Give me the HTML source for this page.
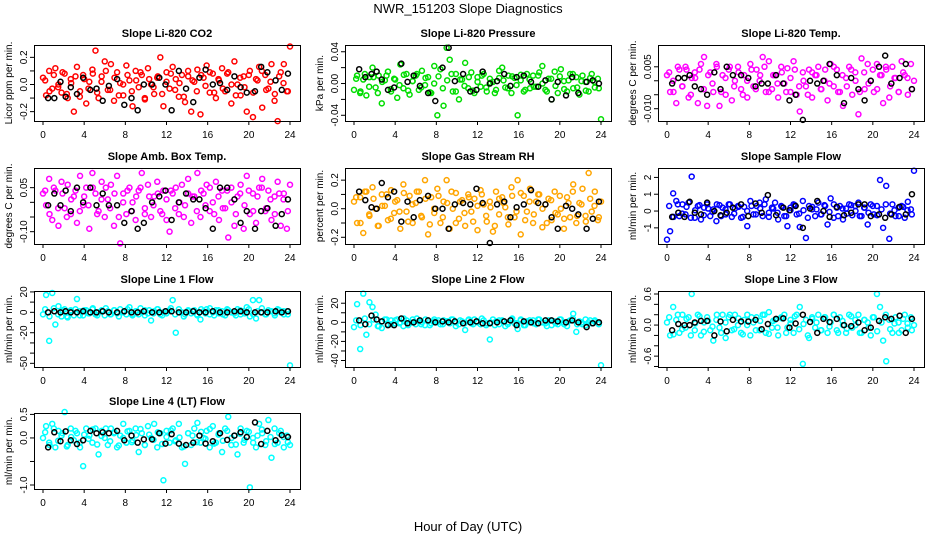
<!DOCTYPE html>
<html><head><meta charset="utf-8"><style>
html,body{margin:0;padding:0;background:#fff;}
svg{display:block;font-family:"Liberation Sans",sans-serif;}
</style></head><body>
<svg id="fig" width="936" height="540" viewBox="0 0 936 540">
<text x="468" y="13" text-anchor="middle" font-size="13">NWR_151203  Slope Diagnostics</text>
<text x="468" y="531" text-anchor="middle" font-size="13">Hour of Day (UTC)</text>
</svg>
<script>
const blackHours=[0.5,1.1,1.7,2.2,2.7,3.3,3.9,4.6,5.2,5.8,6.4,7.2,7.9,8.6,9.2,9.8,10.6,11.3,11.9,12.5,13.2,13.9,14.6,15.2,15.8,16.5,17.2,17.9,18.6,19.2,19.8,20.6,21.2,21.8,22.6,23.2,23.8];
const xTicks=[0,4,8,12,16,20,24];

const co2Vals=[0.05,-0.08,0.1,-0.03,0.12,0.0,-0.06,0.08,-0.1,0.04,-0.2,0.13,-0.05,0.07,-0.14,0.02,0.11,0.25,-0.1,0.06,0.17,-0.04,0.15,-0.12,0.09,0.01,-0.08,0.14,0.03,-0.16,0.1,-0.02,0.07,-0.11,0.12,0.0,-0.07,0.05,0.2,-0.16,0.09,-0.03,0.13,0.04,-0.09,0.07,-0.13,0.1,-0.2,0.02,0.11,-0.22,0.05,0.14,-0.06,0.08,-0.1,0.03,0.12,-0.05,0.09,-0.14,0.17,0.0,-0.08,0.06,-0.2,0.1,-0.24,0.04,0.13,-0.17,0.07,-0.03,0.15,-0.12,-0.27,0.09,0.15,-0.05,0.28];
const co2ValsB=[0.03,-0.05,0.07,-0.02,0.09,-0.07,0.01,0.06,-0.09,0.04,-0.03,0.08,-0.06,0.02,0.1,-0.04,0.05,-0.08,0.0,0.07,-0.05,0.03,0.09,-0.1,0.04,-0.02,0.06,-0.07,0.02,0.08,-0.04,0.01,-0.09,0.06,0.03,-0.05,0.07,-0.01,0.09,-0.06,0.04,-0.03,0.08,0.0,-0.08,0.05,-0.02,0.07,-0.06,0.03,0.1,-0.04,0.02,-0.07,0.06,0.01,-0.05];
const co2Black=[-0.1,-0.1,0.02,-0.09,-0.02,-0.07,0.05,-0.04,-0.03,-0.12,-0.01,0.04,-0.15,-0.1,-0.19,0.0,0.0,0.05,0.0,-0.19,0.1,-0.03,-0.13,0.05,0.11,0.0,0.01,-0.04,0.06,-0.02,-0.06,-0.05,0.13,0.09,0.03,-0.04,0.08];
const presVals=[-0.008,0.01,-0.012,0.005,-0.015,0.008,0.02,-0.005,0.01,-0.025,0.004,0.015,-0.01,0.006,-0.018,0.024,-0.006,0.012,-0.014,0.003,0.01,-0.008,0.016,-0.002,0.008,-0.012,0.022,-0.04,0.018,-0.028,0.045,0.03,-0.01,0.012,-0.02,0.005,0.026,-0.006,0.014,-0.012,0.008,-0.004,0.012,-0.01,0.006,0.002,-0.008,0.016,0.02,-0.005,0.01,-0.012,0.007,-0.04,0.004,-0.01,0.012,-0.006,0.01,-0.004,0.014,0.022,-0.008,0.006,-0.02,0.015,-0.012,0.018,0.003,-0.01,0.012,-0.006,0.008,-0.014,0.01,0.002,-0.01,0.012,-0.005,0.006,-0.045];
const presValsB=[0.006,-0.01,0.012,-0.004,0.008,-0.012,0.002,0.01,-0.007,0.005,-0.002,0.011,-0.009,0.003,0.012,-0.005,0.007,-0.011,0.0,0.009,-0.006,0.004,0.012,-0.01,0.005,-0.003,0.008,-0.009,0.002,0.01,-0.005,0.001,-0.012,0.007,0.004,-0.006,0.009,-0.002,0.011,-0.008,0.005,-0.004,0.01,0.0,-0.01,0.006,-0.003,0.009,-0.007,0.004,0.012,-0.005,0.003,-0.009,0.007,0.002,-0.006];
const presBlack=[0.018,0.008,0.012,0.015,0.005,-0.008,-0.005,0.025,0.002,0.01,-0.003,-0.012,-0.022,0.02,0.045,0.003,0.012,-0.01,-0.008,0.015,0.0,0.003,0.012,-0.003,0.008,0.01,0.002,-0.004,0.004,-0.02,0.002,-0.015,0.008,-0.012,0.002,0.004,0.0];
const tempVals=[0.002,-0.004,0.0,-0.008,0.004,-0.002,0.005,-0.006,0.001,0.003,-0.008,0.006,0.0085,-0.009,0.003,-0.004,0.006,-0.009,0.002,-0.005,0.004,-0.007,0.0,0.005,-0.003,0.002,-0.006,0.006,-0.002,0.004,0.0,0.0085,-0.004,0.007,-0.003,0.002,-0.006,0.005,-0.001,0.0045,-0.004,0.007,-0.005,-0.011,0.003,-0.002,0.004,-0.006,0.002,0.005,-0.003,0.0,-0.007,0.006,-0.002,0.004,-0.004,-0.009,0.001,0.005,-0.005,0.003,-0.012,0.008,-0.003,0.006,0.0,-0.004,0.006,0.002,-0.008,0.004,-0.006,0.005,0.001,-0.004,0.007,0.002,-0.005,0.006,0.0];
const tempValsB=[0.003,-0.004,0.005,-0.002,0.004,-0.005,0.001,0.004,-0.003,0.002,-0.001,0.005,-0.004,0.001,0.005,-0.002,0.003,-0.005,0.0,0.004,-0.003,0.002,0.005,-0.004,0.002,-0.001,0.003,-0.004,0.001,0.004,-0.002,0.0,-0.005,0.003,0.002,-0.003,0.004,-0.001,0.005,-0.004,0.002,-0.002,0.004,0.0,-0.004,0.003,-0.001,0.004,-0.003,0.002,0.005,-0.002,0.001,-0.004,0.003,0.001,-0.003];
const tempBlack=[-0.001,0.001,0.001,0.002,-0.002,-0.003,-0.005,0.003,-0.003,0.005,0.002,0.002,0.001,-0.002,-0.001,-0.001,0.002,-0.001,-0.007,-0.005,-0.014,0.0,-0.001,0.0,0.006,0.002,-0.008,0.001,-0.003,-0.007,0.0,0.005,0.009,-0.001,0.001,0.006,-0.003];
const ambVals=[0.03,-0.01,0.08,-0.06,0.04,-0.08,0.07,-0.02,0.06,-0.04,0.02,-0.07,0.09,-0.01,0.05,-0.09,0.1,0.03,-0.03,0.07,-0.05,0.01,0.06,-0.08,0.09,-0.14,0.03,-0.04,0.05,0.0,-0.06,0.04,0.1,-0.02,0.06,-0.05,0.02,0.07,-0.03,0.04,-0.06,-0.1,0.03,0.05,-0.04,0.06,-0.01,0.08,-0.07,0.02,0.1,-0.05,0.03,0.06,-0.03,0.0,0.07,-0.06,0.04,-0.02,-0.12,0.05,-0.08,0.02,0.06,-0.09,0.09,-0.04,0.03,-0.07,0.05,0.08,-0.03,0.04,-0.06,0.02,0.07,-0.08,0.03,-0.09,0.06];
const ambValsB=[0.04,-0.04,0.05,-0.02,0.03,-0.05,0.01,0.04,-0.03,0.02,-0.01,0.05,-0.04,0.01,0.05,-0.02,0.03,-0.05,0.0,0.04,-0.03,0.02,0.05,-0.04,0.02,-0.01,0.03,-0.04,0.01,0.04,-0.02,0.0,-0.05,0.03,0.02,-0.03,0.04,-0.01,0.05,-0.04,0.02,-0.02,0.04,0.0,-0.04,0.03,-0.01,0.04,-0.03,0.02,0.05,-0.02,0.01,-0.04,0.03,0.01,-0.03];
const ambBlack=[-0.01,0.03,-0.01,0.04,-0.03,0.05,0.0,0.05,-0.01,0.03,-0.01,-0.01,-0.07,-0.03,-0.09,-0.07,0.0,0.02,0.04,-0.06,0.0,0.03,0.01,0.01,-0.02,-0.09,0.05,0.05,0.01,-0.07,-0.03,-0.09,-0.03,-0.02,-0.08,-0.04,0.01];
const rhVals=[0.05,-0.1,0.08,-0.17,0.12,-0.05,0.15,0.0,-0.12,0.1,0.02,-0.08,0.13,-0.03,0.06,-0.14,0.17,-0.02,0.09,-0.1,0.04,0.12,-0.06,0.2,-0.18,0.08,-0.03,0.14,-0.1,0.05,0.2,-0.14,0.0,0.11,-0.07,0.06,-0.12,0.1,-0.02,0.07,-0.15,0.13,0.03,-0.09,0.05,-0.16,0.12,-0.04,0.08,0.01,-0.11,0.15,-0.06,0.2,-0.18,0.09,-0.02,0.14,-0.1,0.05,0.1,-0.13,0.03,0.07,-0.08,0.12,-0.04,0.0,-0.14,0.08,-0.06,0.17,-0.1,0.04,0.14,-0.05,0.25,-0.02,0.12,-0.08,0.05];
const rhValsB=[0.08,-0.1,0.12,-0.04,0.07,-0.12,0.02,0.1,-0.07,0.05,-0.02,0.11,-0.09,0.03,0.12,-0.05,0.07,-0.11,0.0,0.09,-0.06,0.04,0.12,-0.1,0.05,-0.03,0.08,-0.09,0.02,0.1,-0.05,0.01,-0.12,0.07,0.04,-0.06,0.09,-0.02,0.11,-0.08,0.05,-0.04,0.1,0.0,-0.1,0.06,-0.03,0.09,-0.07,0.04,0.12,-0.05,0.03,-0.09,0.07,0.02,-0.06];
const rhBlack=[0.12,0.06,0.01,0.0,0.18,0.08,0.12,-0.09,0.05,-0.06,0.06,0.09,0.0,0.0,-0.14,0.03,0.04,0.03,0.14,0.04,-0.24,0.03,0.05,-0.06,0.01,0.03,0.13,0.04,0.03,-0.06,-0.14,0.02,0.0,-0.04,-0.14,-0.07,0.05];
const sampVals=[-1.7,-1.2,1.05,0.6,-0.3,0.4,-0.2,0.5,2.05,-0.4,0.3,-0.5,0.2,0.4,-0.3,0.1,-0.6,0.35,0.2,-0.2,0.4,-0.35,0.15,0.3,-0.4,0.25,-0.9,0.6,-0.2,0.3,0.5,-0.3,0.7,-0.1,0.2,0.5,-0.5,0.3,-0.3,-0.9,0.2,0.4,-0.2,-0.95,0.6,-1.6,0.3,0.1,-0.3,0.5,-0.2,0.35,-0.8,0.75,-0.4,0.2,0.3,-0.5,0.15,0.4,-0.25,0.3,0.5,-0.3,0.2,-0.8,0.4,-0.2,0.3,1.85,-1.0,1.5,-1.65,0.4,-0.3,0.2,0.3,-0.4,0.55,0.1,2.4];
const sampValsB=[0.3,-0.35,0.4,-0.15,0.25,-0.4,0.05,0.35,-0.25,0.15,-0.05,0.4,-0.3,0.1,0.4,-0.15,0.25,-0.35,0.0,0.3,-0.2,0.15,0.4,-0.35,0.15,-0.1,0.25,-0.3,0.05,0.35,-0.15,0.05,-0.4,0.25,0.1,-0.2,0.3,-0.05,0.4,-0.3,0.15,-0.15,0.35,0.0,-0.3,0.2,-0.1,0.3,-0.25,0.1,0.4,-0.15,0.05,-0.3,0.25,0.05,-0.2];
const sampBlack=[-0.35,-0.1,-0.35,0.55,-0.1,-0.2,0.5,0.0,-0.25,-0.1,0.2,0.4,-0.3,0.45,-0.1,0.95,-0.25,0.2,0.05,0.3,-1.0,0.15,0.6,0.0,-0.35,0.25,-0.25,-0.1,0.4,0.4,-0.3,-0.2,-0.4,-0.2,0.25,-0.2,1.0];
const l1Vals=[-2,17,-28,19,-12,6,-4,3,-5,2,-3,13,1,-3,2,-1,3,-2,0,2,-3,1,-2,2,-1,3,0,-2,5,-3,1,-2,0,2,-1,-8,1,3,-2,0,-1,2,12,-20,3,0,-2,1,-1,2,-3,-7,1,3,-2,0,2,-1,1,-3,2,0,-1,3,-2,1,5,-4,12,-6,12,0,-2,2,1,-1,3,0,-2,1,-52];
const l1ValsB=[3,-4,4,-2,2,-4,1,3,-3,2,-1,4,-3,1,4,-2,2,-4,0,3,-2,1,4,-3,2,-1,3,-3,1,4,-2,0,-4,2,1,-2,3,-1,4,-3,2,-2,3,0,-3,2,-1,3,-2,1,4,-2,1,-3,2,1,-2];
const l1Black=[0,1,0,1,0,0,1,0,0,1,0,0,1,0,0,1,0,0,1,1,0,0,1,0,0,1,0,0,1,1,0,0,0,0,1,0,1];
const l2Vals=[-5,19,-28,30,-13,21,16,8,-4,-6,3,-2,2,-1,3,0,-4,2,-1,3,-2,1,0,-3,2,-1,3,0,-2,2,1,-1,3,0,-2,1,-8,2,-1,3,0,-2,2,-1,-18,3,1,-2,2,-4,0,3,-1,-7,2,-3,1,0,2,-2,3,0,-1,2,-3,1,-2,3,0,-4,2,9,-10,1,-2,3,0,-1,2,0,-45];
const l2ValsB=[2,-3,4,-2,3,-4,1,3,-2,2,-1,4,-3,0,4,-2,3,-3,1,2,-2,1,3,-4,2,-1,3,-2,1,4,-3,0,-3,2,1,-2,4,-1,3,-3,2,-1,3,0,-4,2,-1,3,-2,1,4,-2,0,-3,2,1,-2];
const l2Black=[2,-2,7,3,1,-3,-3,4,-1,0,2,2,0,1,0,1,-1,0,1,-1,-1,0,1,2,-3,1,0,-1,2,2,1,0,2,0,-5,-1,0];
const l3Vals=[0.05,-0.2,0.35,0.1,-0.15,0.2,-0.05,0.15,0.6,-0.1,0.2,-0.2,0.05,0.15,-0.1,-0.3,0.1,-0.05,0.2,-0.25,0.15,-0.1,0.2,0.0,-0.15,0.1,0.2,-0.2,0.05,0.15,-0.1,0.2,-0.15,0.25,-0.05,0.1,-0.2,0.15,0.2,-0.05,0.1,-0.15,0.2,0.35,-0.75,0.1,-0.25,0.15,-0.05,0.2,-0.1,0.15,-0.15,0.05,0.2,-0.1,0.15,0.0,-0.15,0.2,-0.05,0.1,0.2,-0.15,0.1,0.05,-0.2,0.15,0.6,0.35,-0.3,-0.7,0.1,-0.15,0.15,0.05,-0.1,0.2,-0.05,0.15,0.0];
const l3ValsB=[0.15,-0.18,0.2,-0.08,0.12,-0.2,0.03,0.17,-0.13,0.08,-0.03,0.2,-0.15,0.05,0.2,-0.08,0.13,-0.18,0.0,0.15,-0.1,0.08,0.2,-0.17,0.08,-0.05,0.13,-0.15,0.03,0.17,-0.08,0.02,-0.2,0.12,0.05,-0.1,0.15,-0.03,0.2,-0.15,0.08,-0.07,0.17,0.0,-0.15,0.1,-0.05,0.15,-0.12,0.05,0.2,-0.08,0.03,-0.15,0.12,0.03,-0.1];
const l3Black=[-0.1,0.02,0.0,0.0,0.05,0.08,0.08,-0.2,0.07,-0.12,0.1,0.07,0.07,0.1,-0.08,0.02,0.12,0.13,-0.05,0.03,0.2,0.06,-0.15,0.12,0.06,0.12,0.0,-0.02,0.05,-0.1,-0.05,0.08,0.15,0.12,0.18,-0.15,0.12];
const l4Vals=[0.0,0.25,-0.1,0.3,-0.2,0.15,0.05,0.55,-0.15,0.2,-0.05,0.1,-0.2,-0.6,0.2,0.05,-0.1,0.2,-0.35,0.15,0.0,-0.15,0.2,0.1,-0.2,0.05,0.3,-0.1,0.15,-0.05,0.2,-0.3,0.1,-0.15,0.25,0.0,0.3,-0.2,0.1,-0.9,0.15,-0.1,0.2,-0.05,0.3,-0.2,-0.55,0.1,-0.15,0.2,0.32,-0.1,0.0,0.15,-0.2,0.25,-0.1,0.1,-0.3,0.2,0.45,-0.15,0.05,-0.35,0.2,-0.1,0.15,-1.05,0.0,-0.2,0.3,0.1,-0.15,0.38,-0.42,0.2,-0.1,0.15,-0.2,0.05,-0.15];
const l4ValsB=[0.12,-0.15,0.2,-0.06,0.1,-0.18,0.02,0.15,-0.1,0.07,-0.02,0.18,-0.14,0.04,0.2,-0.07,0.12,-0.16,0.0,0.14,-0.09,0.06,0.19,-0.15,0.07,-0.04,0.12,-0.13,0.02,0.16,-0.07,0.01,-0.18,0.1,0.05,-0.09,0.13,-0.02,0.19,-0.12,0.07,-0.06,0.15,0.0,-0.14,0.09,-0.04,0.13,-0.1,0.05,0.18,-0.07,0.02,-0.13,0.1,0.02,-0.09];
const l4Black=[-0.2,0.12,-0.07,0.14,-0.05,-0.13,-0.05,0.15,0.1,0.12,0.1,0.15,-0.05,0.05,-0.1,-0.03,-0.03,0.1,-0.12,0.08,-0.12,-0.15,-0.1,0.05,-0.12,-0.07,0.1,-0.04,0.05,0.12,0.02,0.33,-0.13,0.15,-0.05,0.06,0.02];

const co2Ticks=[-0.2,-0.1,0,0.1,0.2], co2Labels=["-0.2","","0.0","","0.2"];
const presTicks=[-0.04,-0.02,0,0.02,0.04], presLabels=["-0.04","","0.00","","0.04"];
const tempTicks=[-0.01,-0.005,0,0.005], tempLabels=["-0.010","","","0.005"];
const ambTicks=[-0.1,-0.05,0,0.05], ambLabels=["-0.10","","","0.05"];
const rhTicks=[-0.2,-0.1,0,0.1,0.2], rhLabels=["-0.2","","0.0","","0.2"];
const sampTicks=[-1,0,1,2], sampLabels=["-1","0","1","2"];
const l1Ticks=[-50,-40,-30,-20,-10,0,10,20], l1Labels=["-50","","","-20","","0","","20"];
const l2Ticks=[-40,-30,-20,-10,0,10,20], l2Labels=["-40","","-20","","0","","20"];
const l3Ticks=[-0.8,-0.6,-0.4,-0.2,0,0.2,0.4,0.6], l3Labels=["","-0.6","","","0.0","","","0.6"];
const l4Ticks=[-1,-0.5,0,0.5], l4Labels=["-1.0","","0.0","0.5"];

const NS="http://www.w3.org/2000/svg";
const svg=document.getElementById('fig');
function mk(tag,attrs,parent){const e=document.createElementNS(NS,tag);for(const k in attrs)e.setAttribute(k,attrs[k]);(parent||svg).appendChild(e);return e;}

const panels=[
 {name:'co2',title:'Slope Li-820 CO2',ylab:'Licor ppm per min.',col:0,row:0,ymin:-0.269,ymax:0.291,vals:co2Vals,valsB:co2ValsB,blk:co2Black,ticks:co2Ticks,labels:co2Labels,color:'#ff0000'},
 {name:'pressure',title:'Slope Li-820 Pressure',ylab:'kPa per min.',col:1,row:0,ymin:-0.0472,ymax:0.0485,vals:presVals,valsB:presValsB,blk:presBlack,ticks:presTicks,labels:presLabels,color:'#00dd00'},
 {name:'li820-temp',title:'Slope Li-820 Temp.',ylab:'degrees C per min.',col:2,row:0,ymin:-0.0144,ymax:0.0128,vals:tempVals,valsB:tempValsB,blk:tempBlack,ticks:tempTicks,labels:tempLabels,color:'#ff00ff'},
 {name:'amb-box-temp',title:'Slope Amb. Box Temp.',ylab:'degrees C per min.',col:0,row:1,ymin:-0.142,ymax:0.117,vals:ambVals,valsB:ambValsB,blk:ambBlack,ticks:ambTicks,labels:ambLabels,color:'#ff00ff'},
 {name:'gas-stream-rh',title:'Slope Gas Stream RH',ylab:'percent per min.',col:1,row:1,ymin:-0.247,ymax:0.285,vals:rhVals,valsB:rhValsB,blk:rhBlack,ticks:rhTicks,labels:rhLabels,color:'#ffa500'},
 {name:'sample-flow',title:'Slope Sample Flow',ylab:'ml/min per min.',col:2,row:1,ymin:-1.96,ymax:2.56,vals:sampVals,valsB:sampValsB,blk:sampBlack,ticks:sampTicks,labels:sampLabels,color:'#0000ff'},
 {name:'line1-flow',title:'Slope Line 1 Flow',ylab:'ml/min per min.',col:0,row:2,ymin:-53.6,ymax:20.9,vals:l1Vals,valsB:l1ValsB,blk:l1Black,ticks:l1Ticks,labels:l1Labels,color:'#00ffff'},
 {name:'line2-flow',title:'Slope Line 2 Flow',ylab:'ml/min per min.',col:1,row:2,ymin:-46.8,ymax:32.8,vals:l2Vals,valsB:l2ValsB,blk:l2Black,ticks:l2Ticks,labels:l2Labels,color:'#00ffff'},
 {name:'line3-flow',title:'Slope Line 3 Flow',ylab:'ml/min per min.',col:2,row:2,ymin:-0.81,ymax:0.658,vals:l3Vals,valsB:l3ValsB,blk:l3Black,ticks:l3Ticks,labels:l3Labels,color:'#00ffff'},
 {name:'line4-flow',title:'Slope Line 4 (LT) Flow',ylab:'ml/min per min.',col:0,row:3,ymin:-1.085,ymax:0.53,vals:l4Vals,valsB:l4ValsB,blk:l4Black,ticks:l4Ticks,labels:l4Labels,color:'#00ffff'}
];
const colLeft=[34,345,658], rowTop=[45,168,291,413], W=266, H=76;

panels.forEach(p=>{
  const L=colLeft[p.col], T=rowTop[p.row], R=L+W, B=T+H;
  const xs=h=>L+9+(h/24)*(W-19);
  const ys=v=>T+(p.ymax-v)/(p.ymax-p.ymin)*H;
  const g=mk('g',{});
  
  
  const t=mk('text',{x:L+W/2,y:T-8,'text-anchor':'middle','font-size':11,'font-weight':'bold'},g);
  t.textContent=p.title;
  
  
  const yl=mk('text',{x:0,y:0,'text-anchor':'middle','font-size':10,transform:`translate(${L-22},${T+H/2}) rotate(-90)`},g);
  yl.textContent=p.ylab;
  
  
  const pts=mk('g',{fill:'none',stroke:p.color,'stroke-width':1.5},g);
  
  
  p.vals.forEach((v,i)=>{
    const c=mk('circle',{cx:xs(24*i/(p.vals.length-1)),cy:ys(v),r:2.5},pts);
    
    
  });
  p.valsB.forEach((v,i)=>{
    const c=mk('circle',{cx:xs(24*(i+0.5)/p.valsB.length),cy:ys(v),r:2.5},pts);
    
    
  });
  const bp=mk('g',{fill:'none',stroke:'#000','stroke-width':1.5},g);
  
  
  p.blk.forEach((v,i)=>{
    if(blackHours[i]===undefined)return;
    const c=mk('circle',{cx:xs(blackHours[i]),cy:ys(v),r:2.5},bp);
    
    
  });
  const box=mk('rect',{x:L+0.5,y:T+0.5,width:W,height:H,fill:'none',stroke:'#000','stroke-width':1},g);
  
  
  xTicks.forEach(h=>{
    const x=xs(h);
    mk('line',{x1:x,y1:B,x2:x,y2:B+4,stroke:'#000'},g);
    const tl=mk('text',{x:x,y:B+17,'text-anchor':'middle','font-size':10},g);
    tl.textContent=h;
    
    
  });
  p.ticks.forEach((v,i)=>{
    const y=ys(v);
    mk('line',{x1:L-4,y1:y,x2:L,y2:y,stroke:'#000'},g);
    if(p.labels[i]){
      const tl=mk('text',{x:0,y:0,'text-anchor':'middle','font-size':10,transform:`translate(${L-7},${y}) rotate(-90)`},g);
      tl.textContent=p.labels[i];
      
      
    }
  });
});
</script>
</body></html>
